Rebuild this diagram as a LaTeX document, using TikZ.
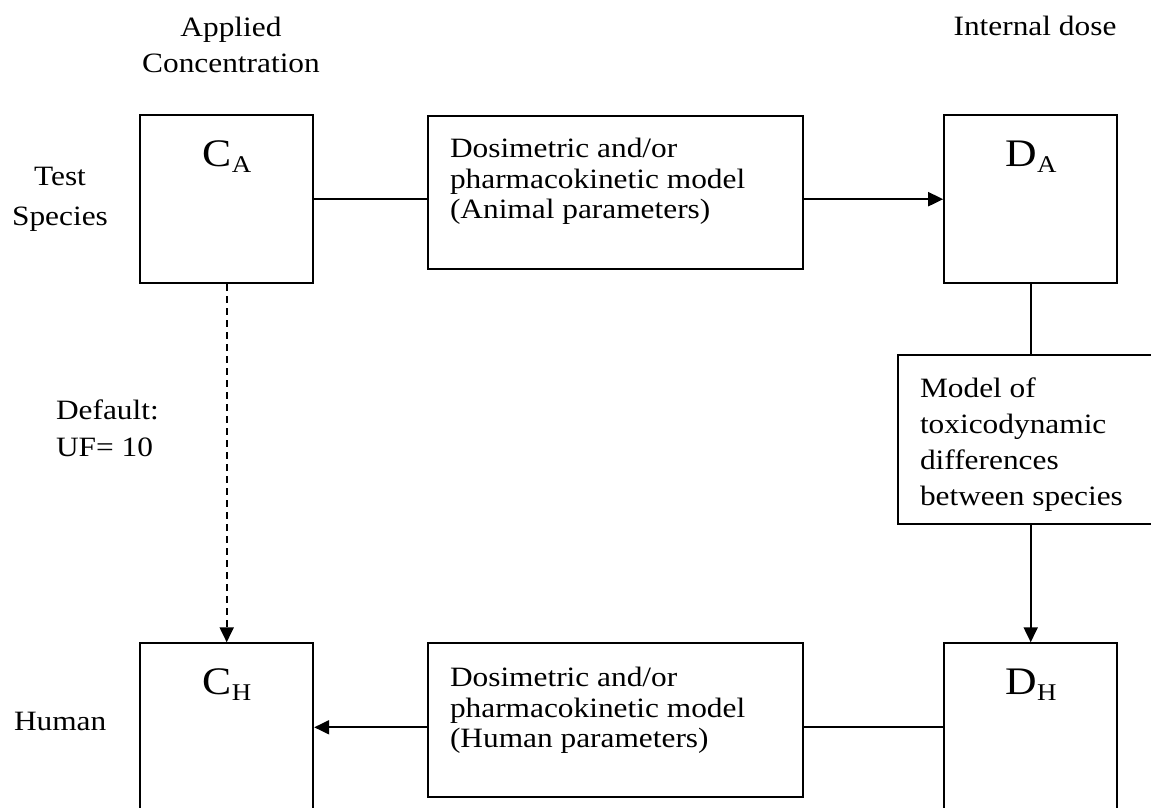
\documentclass[tikz,border=0pt]{standalone}
\usepackage{fontspec}
\setmainfont{Liberation Serif}[FakeStretch=1.12]
\usepackage{tikz}
\usetikzlibrary{arrows.meta}
\newcommand{\dosesym}[2]{{\fontsize{19.5}{20}\selectfont #1}\raisebox{-3pt}{\fontsize{12}{12}\selectfont #2}}

\begin{document}
\begin{tikzpicture}[x=0.5pt,y=-0.5pt,line width=1pt,
	dosebox/.style={draw,inner sep=0pt,minimum width=86.5pt,minimum height=84pt},
	modelbox/.style={draw,inner sep=0pt,minimum width=187.75pt,minimum height=76.75pt},
	txt/.style={inner sep=0pt,font=\fontsize{14}{15.35}\selectfont},
	sym/.style={inner sep=0pt,anchor=base},
	arr/.style={-{Triangle[length=7.5pt,width=7pt]}}]
\useasboundingbox (0,0) rectangle (1151,808);

\node (ca) at (226.7,199.2)[dosebox] {};
\node (da) at (1030.7,199.2)[dosebox] {};
\node (ch) at (226.7,727.3)[dosebox] {};
\node (dh) at (1030.7,727.3)[dosebox] {};
\node (pka) at (615.5,192.3)[modelbox] {};
\node (pkh) at (615.5,720.2)[modelbox] {};
\node (tox) at (1030.7,439.5)[draw,inner sep=0pt,minimum width=132.3pt,minimum height=84.5pt] {};

\node (calab) at (227,166)[sym] {\dosesym{C}{A}};
\node (dalab) at (1031,166)[sym] {\dosesym{D}{A}};
\node (chlab) at (227,694)[sym] {\dosesym{C}{H}};
\node (dhlab) at (1031,694)[sym] {\dosesym{D}{H}};

\node (pkatxt) at (449,137)[txt,anchor=north west,align=left] {Dosimetric and/or\\pharmacokinetic model\\(Animal parameters)};
\node (pkhtxt) at (449,666)[txt,anchor=north west,align=left] {Dosimetric and/or\\pharmacokinetic model\\(Human parameters)};
\node (toxtxt) at (919,377)[txt,anchor=north west,align=left,font=\fontsize{14}{17.9}\selectfont] {Model of\\toxicodynamic\\differences\\between species};

\node (conc) at (231,16.5)[txt,anchor=north,align=center,font=\fontsize{14}{18}\selectfont] {Applied\\Concentration};
\node (idose) at (1035,36)[txt,anchor=base] {Internal dose};
\node (test) at (60,166.5)[txt,anchor=north,align=center,font=\fontsize{14}{20}\selectfont] {Test\\Species};
\node (human) at (13,730)[txt,anchor=base west] {Human};
\node (uf) at (55,399)[txt,anchor=north west,align=left,font=\fontsize{14}{18.5}\selectfont] {Default:\\UF= 10};

\draw (ca.east) -- (ca.east -| pka.west);
\draw[arr] (pka.east |- da.west) -- (da.west);
\draw (da.south) -- (tox.north);
\draw[arr] (tox.south) -- (dh.north);
\draw (dh.west) -- (dh.west -| pkh.east);
\draw[arr] (pkh.west |- ch.east) -- (ch.east);
\draw[arr,dash pattern=on 3.5pt off 2.5pt] (ca.south) -- (ch.north);
\end{tikzpicture}
\end{document}
